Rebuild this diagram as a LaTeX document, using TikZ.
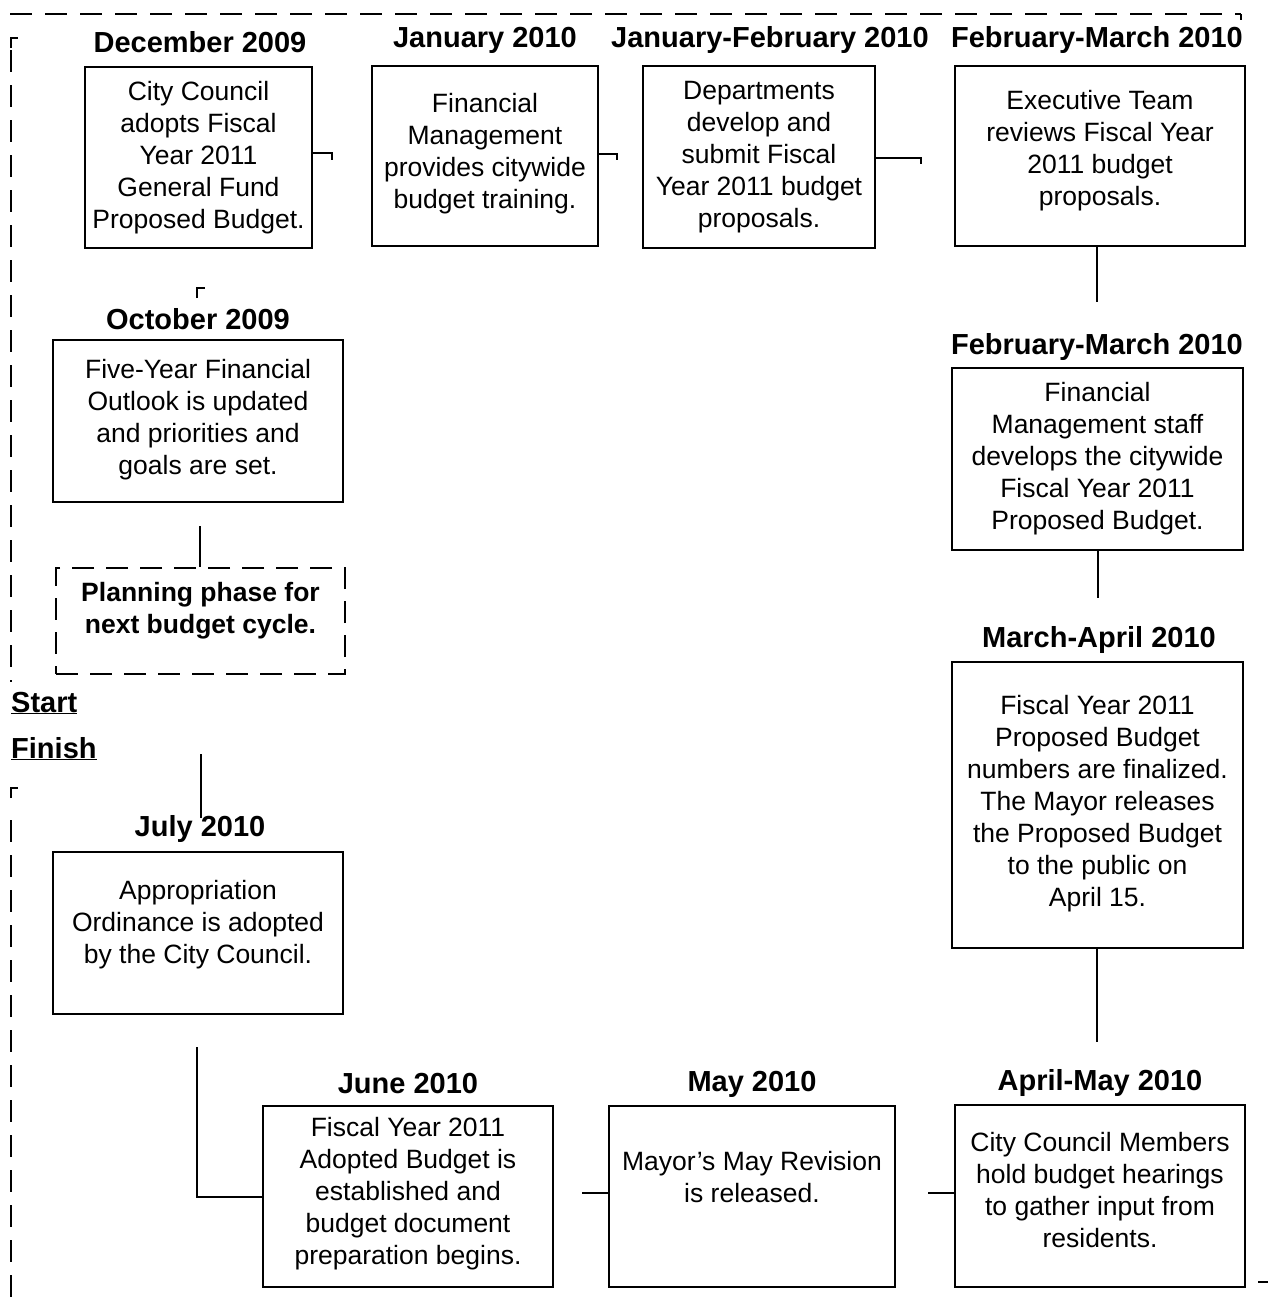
\documentclass[tikz,border=0pt]{standalone}
\usepackage{fontspec}
\setmainfont{Liberation Sans}
\begin{document}
\begin{tikzpicture}[x=1pt,y=-1pt,
  box/.style={draw,line width=2.6pt,align=center,inner sep=1pt,font=\fontsize{26.5}{32}\selectfont},
  plan/.style={draw,line width=2.4pt,dash pattern=on 22pt off 12pt,align=center,font=\bfseries\fontsize{26.5}{32}\selectfont},
  ttl/.style={font=\bfseries\fontsize{29}{32}\selectfont,inner sep=0pt},
  conn/.style={line width=1.8pt},
  frame/.style={line width=1.8pt,dash pattern=on 22pt off 13pt},
  tick/.style={line width=2pt}]
\useasboundingbox (0,0) rectangle (1268,1310);
\fill[white] (0,0) rectangle (1268,1310);

% outer dashed frame
\draw[frame] (10,14) -- (1241,14);
\coordinate (trc) at (1241,14);
\draw[tick] (trc) -- ++(0,6);
\draw[frame] (11,50) -- (11,682);
\draw[frame] (11,820) -- (11,1310);
\draw[tick] (11,48) -- (11,38) -- (18,38);
\draw[tick] (11,798) -- (11,788) -- (18,788);
\draw[tick] (197,298) -- (197,288) -- (205,288);
\draw[tick] (1258,1282) -- (1268,1282);

% boxes
\node[box,minimum width=227pt,minimum height=181pt] (dec) at (198.5,157.5)
  {City Council\\adopts Fiscal\\Year 2011\\General Fund\\Proposed Budget.};
\node[box,minimum width=226pt,minimum height=180pt] (jan) at (485,156)
  {Financial\\Management\\provides citywide\\budget training.\\[-22pt]\mbox{}};
\node[box,minimum width=232pt,minimum height=182pt] (janfeb) at (759,157)
  {Departments\\develop and\\submit Fiscal\\Year 2011 budget\\proposals.};
\node[box,minimum width=290pt,minimum height=180pt] (febmar) at (1100,156)
  {Executive Team\\reviews Fiscal Year\\2011 budget\\proposals.\\[-16pt]\mbox{}};
\node[box,minimum width=291pt,minimum height=182pt] (febmar2) at (1097.5,459)
  {Financial\\Management staff\\develops the citywide\\Fiscal Year 2011\\Proposed Budget.};
\node[box,minimum width=291pt,minimum height=286pt] (marapr) at (1097.5,805)
  {Fiscal Year 2011\\Proposed Budget\\numbers are finalized.\\The Mayor releases\\the Proposed Budget\\to the public on\\April 15.\\[-24pt]\mbox{}};
\node[box,minimum width=290pt,minimum height=182pt] (aprmay) at (1100,1196)
  {City Council Members\\hold budget hearings\\to gather input from\\residents.\\[-20pt]\mbox{}};
\node[box,minimum width=286pt,minimum height=181pt] (may) at (752,1196.5)
  {Mayor’s May Revision\\is released.\\[8pt]\mbox{}};
\node[box,minimum width=290pt,minimum height=181pt] (june) at (408,1196.5)
  {Fiscal Year 2011\\Adopted Budget is\\established and\\budget document\\preparation begins.\\[-20pt]\mbox{}};
\node[box,minimum width=290pt,minimum height=162pt] (july) at (198,933)
  {Appropriation\\Ordinance is adopted\\by the City Council.\\[-10pt]\mbox{}};
\node[box,minimum width=290pt,minimum height=162pt] (oct) at (198,421)
  {Five-Year Financial\\Outlook is updated\\and priorities and\\goals are set.\\[-24pt]\mbox{}};
\node[plan,minimum width=289pt,minimum height=106pt] (planbox) at (200.5,621)
  {Planning phase for\\next budget cycle.\\[-6pt]\mbox{}};

% titles
\node[ttl] (tdec) at (200,42) {December 2009};
\node[ttl] (tjan) at (485,40) {January 2010};
\node[ttl] (tjanfeb) at (770,40) {January-February 2010};
\node[ttl] (tfebmar) at (1097,40) {February-March 2010};
\node[ttl] (tfebmar2) at (1097,347) {February-March 2010};
\node[ttl] (tmarapr) at (1099,640) {March-April 2010};
\node[ttl] (taprmay) at (1100,1083) {April-May 2010};
\node[ttl] (tmay) at (752,1084) {May 2010};
\node[ttl] (tjune) at (408,1084) {June 2010};
\node[ttl] (tjuly) at (200,829) {July 2010};
\node[ttl] (toct) at (198,319) {October 2009};

% start / finish
\node[ttl,anchor=base west] (start) at (11,712) {\underline{Start}};
\node[ttl,anchor=base west] (finish) at (11,758) {\underline{Finish}};

% connectors
\draw[conn] (dec.east |- 0,153) -- (332,153) -- (332,160);
\draw[conn] (jan.east |- 0,154) -- (617,154) -- (617,160);
\draw[conn] (janfeb.east |- 0,158) -- (921,158) -- (921,164);
\coordinate (c1) at (1097,302);
\draw[conn] (febmar.south -| c1) -- (c1);
\coordinate (c2) at (1098,598);
\draw[conn] (febmar2.south -| c2) -- (c2);
\coordinate (c3) at (1097,1042);
\draw[conn] (marapr.south -| c3) -- (c3);
\coordinate (c4) at (928,1193);
\draw[conn] (c4) -- (aprmay.west |- c4);
\coordinate (c5) at (582,1193);
\draw[conn] (c5) -- (may.west |- c5);
\coordinate (c6) at (197,1047);
\draw[conn] (c6) -- (197,1197) -- (june.west |- 0,1197);
\coordinate (c7) at (201,754);
\draw[conn] (c7) -- (201,818);
\coordinate (c8) at (200,526);
\draw[conn] (c8) -- (planbox.north -| c8);
\end{tikzpicture}
\end{document}
